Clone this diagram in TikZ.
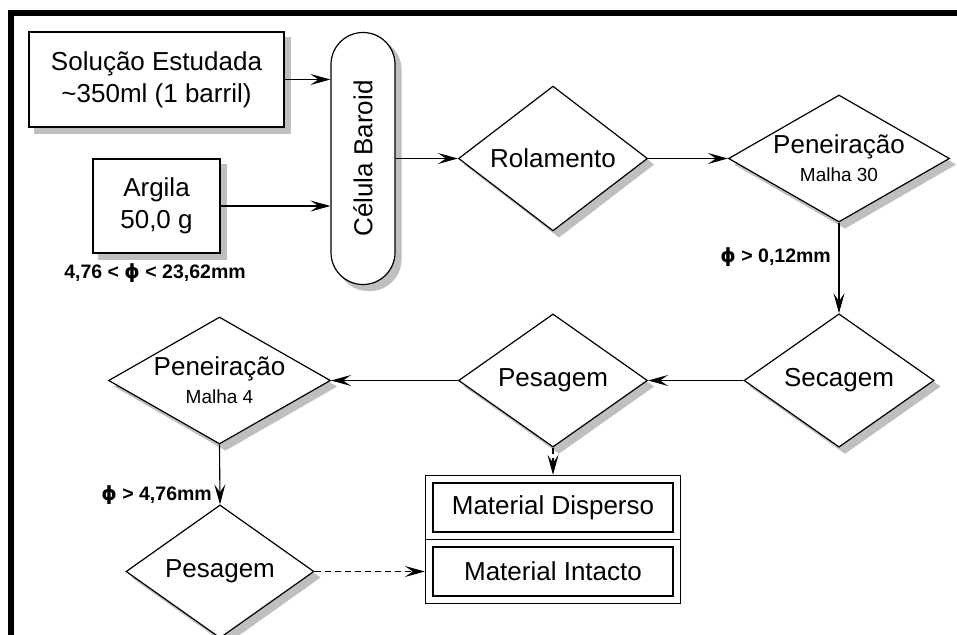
\documentclass[tikz,border=0pt]{standalone}
\usepackage{fontspec}
\setmainfont{Liberation Sans}
\newfontfamily\phifont{DejaVu Sans}
\newcommand{\diam}{{\phifont\bfseries ϕ}}
\usetikzlibrary{shapes.geometric,arrows.meta,fit,backgrounds}
\begin{document}
\begin{tikzpicture}[x=1pt,y=-1pt,
  every node/.style={font=\fontsize{26}{33}\selectfont},
  base/.style={draw, line width=1.2pt, fill=white},
  shadowfill/.style={fill=black!25, draw=none},
  off/.style={xshift=6pt, yshift=-6pt},
  box/.style={base, rectangle, align=center, inner sep=0pt},
  dia/.style={base, diamond, inner sep=0pt},
  cell/.style={draw, line width=1.2pt, rectangle, inner sep=0pt,
    minimum width=240pt, minimum height=49pt},
  flow/.style={line width=1.1pt, -{Stealth[length=20pt,width=11pt,inset=8pt]}},
  dflow/.style={flow, dash pattern=on 6pt off 4pt},
  lbl/.style={font=\fontsize{19.5}{22}\bfseries\selectfont, inner sep=0pt},
]
\useasboundingbox (0,0) rectangle (957,634);

% heavy frame along the top and left edges
\begin{scope}
  \clip (0,0) rectangle (957,634);
  \draw[line width=6pt, line join=miter] (11,660) -- (11,13) -- (980,13);
\end{scope}

% inputs
\node[box, minimum width=255pt, minimum height=95pt] (sol) at (156.5,79.5)
  {Solução Estudada\\[-1pt]\textasciitilde 350ml (1 barril)};
\node[box, minimum width=127pt, minimum height=94pt] (arg) at (156.5,206)
  {Argila\\[-1pt]50,0 g};
\node[lbl] (argsize) at (155,273) {4,76 < \diam{} < 23,62mm};

% roller cell
\node[base, rectangle, rounded corners=32pt, inner sep=0pt,
      minimum width=64pt, minimum height=252pt] (cel) at (363,158.5)
  {\rotatebox{90}{Célula Baroid}};

% process steps
\node[dia, minimum width=189pt, minimum height=95pt] (rol) at (553,158.5) {Rolamento};
\node[dia, minimum width=221pt, minimum height=127pt,
      label={[align=center]center:Peneiração\\[-5pt]{\fontsize{19}{22}\selectfont Malha 30}}]
      (pen30) at (839,158.5) {};
\node[dia, minimum width=190pt, minimum height=95pt] (sec) at (839,380.5) {Secagem};
\node[dia, minimum width=189pt, minimum height=95pt] (pes1) at (553,380.5) {Pesagem};
\node[dia, minimum width=222pt, minimum height=127pt,
      label={[align=center]center:Peneiração\\[-5pt]{\fontsize{19}{22}\selectfont Malha 4}}]
      (pen4) at (219.5,380.5) {};
\node[dia, minimum width=188pt, minimum height=95pt] (pes2) at (220,571.5) {Pesagem};

% drop shadows behind the boxes, the cell and the diamonds
\begin{scope}[on background layer]
  \foreach \n in {sol,arg}
    \fill[shadowfill] ([off]\n.south west) rectangle ([off]\n.north east);
  \fill[shadowfill, rounded corners=32pt]
    ([off]cel.south west) rectangle ([off]cel.north east);
  \foreach \n in {rol,pen30,sec,pes1,pen4,pes2}
    \fill[shadowfill] ([off]\n.north) -- ([off]\n.east) -- ([off]\n.south)
      -- ([off]\n.west) -- cycle;
\end{scope}

% result table
\node[cell] (mdisp) at (553,507.5) {Material Disperso};
\node[cell] (mint) at (553,571.5) {Material Intacto};
\node[draw, line width=1.2pt, fit=(mdisp)(mint), inner sep=7pt] (mat) {};
\draw[line width=1.2pt] (mat.west) -- (mat.east);

% connectors
\draw[flow] (sol.east) -- (sol.east -| cel.west);
\draw[flow] (arg.east) -- (arg.east -| cel.west);
\draw[flow] (cel.east) -- (rol.west);
\draw[flow] (rol.east) -- (pen30.west);
\draw[flow] (pen30.south) -- (sec.north);
\node[lbl, anchor=east] (lbl30) at (831,257) {\diam{} > 0,12mm};
\draw[flow] (sec.west) -- (pes1.east);
\draw[flow] (pes1.west) -- (pen4.east);
\draw[dflow] (pes1.south) -- (mat.north);
\draw[flow] (pen4.south) -- (pes2.north);
\node[lbl, anchor=east] (lbl4) at (212,495) {\diam{} > 4,76mm};
\draw[dflow] (pes2.east) -- (pes2.east -| mat.west);
\end{tikzpicture}
\end{document}
